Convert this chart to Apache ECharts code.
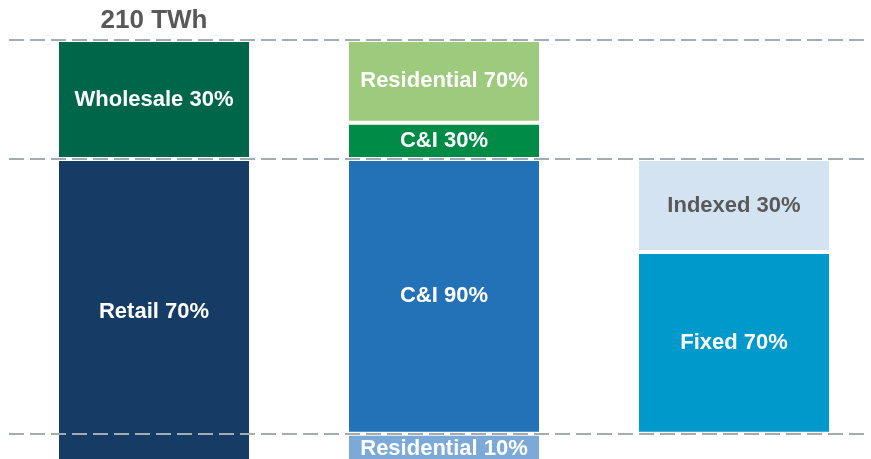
<!DOCTYPE html>
<html>
<head>
<meta charset="utf-8">
<script src="https://cdn.jsdelivr.net/npm/echarts@6/dist/echarts.min.js"></script>
<style>
  html, body { margin: 0; padding: 0; background: #fff; }
  #myChart { width: 871px; height: 459px; }
</style>
</head>
<body>
<div id="myChart"></div>
<script>
  // columns of the diagram
  const categories = ['Market', 'Customer', 'C&I pricing'];
  const totalLabel = '210 TWh';
  const axisMax = 210;

  // stacked pieces, bottom to top (TWh-ish)
  const segmentNames = ['Retail 70%', 'Wholesale 30%', 'Residential 10%', 'C&I 90%', 'C&I 30%', 'Residential 70%', 'offset', 'Fixed 70%', 'Indexed 30%'];
  const segmentColumn = [0, 0, 1, 1, 1, 1, 2, 2, 2];
  const segmentValues = [151, 59, 15, 136, 18, 41, 15, 90, 46];

  const segmentColors = ['#143c64', '#00664a', '#7baad8', '#2372b8', '#008c47', '#9dca7c', 'transparent', '#0099cc', '#d4e3f1'];
  const labelColors = ['#fff', '#fff', '#fff', '#fff', '#fff', '#fff', '#fff', '#fff', '#595959'];

  // dashed guide levels: top of residential 10%, top of retail, total
  const guideLevels = [segmentValues[2], segmentValues[0], segmentValues[0] + segmentValues[1]];

  let myChart = echarts.init(document.getElementById('myChart'));

  let series = [];
  segmentNames.forEach(function (name, i) {
    let data = categories.map(function (c, j) {
      return j === segmentColumn[i] ? segmentValues[i] : '-';
    });
    let isOffset = name === 'offset';
    series.push({
      name: name,
      type: 'bar',
      stack: 'all',
      barWidth: 194,
      data: data,
      silent: true,
      itemStyle: {
        color: segmentColors[i],
        borderColor: isOffset ? 'transparent' : '#fff',
        borderWidth: isOffset ? 0 : 2
      },
      label: {
        show: !isOffset,
        position: 'inside',
        formatter: name,
        color: labelColors[i],
        fontFamily: 'Liberation Sans',
        fontWeight: 'bold',
        fontSize: 22
      }
    });
  });

  // total caption sitting on top of the first column
  series.push({
    name: 'total',
    type: 'bar',
    stack: 'all',
    barWidth: 194,
    data: [0, '-', '-'],
    silent: true,
    itemStyle: { color: 'transparent' },
    label: {
      show: true,
      position: 'top',
      distance: 6,
      formatter: totalLabel,
      color: '#595959',
      fontFamily: 'Liberation Sans',
      fontWeight: 'bold',
      fontSize: 26
    }
  });

  // dashed guides drawn over the bars
  series.push({
    name: 'guides',
    type: 'line',
    xAxisIndex: 1,
    yAxisIndex: 1,
    data: [],
    z: 10,
    silent: true,
    markLine: {
      silent: true,
      symbol: ['none', 'none'],
      label: { show: false },
      lineStyle: { color: '#a3acb3', type: [15, 6], width: 2 },
      data: guideLevels.map(function (v) { return { yAxis: v }; })
    }
  });

  myChart.setOption({
    animation: false,
    grid: [
      { left: 9, top: 40, width: 870, height: 424, outerBoundsMode: 'none' },
      { left: 9, top: 40, width: 859, height: 424, outerBoundsMode: 'none' }
    ],
    xAxis: [
      { type: 'category', data: categories, show: false, gridIndex: 0 },
      { type: 'value', min: 0, max: 1, show: false, gridIndex: 1 }
    ],
    yAxis: [
      { type: 'value', min: 0, max: axisMax, show: false, gridIndex: 0 },
      { type: 'value', min: 0, max: axisMax, show: false, gridIndex: 1 }
    ],
    series: series
  });
</script>
</body>
</html>
